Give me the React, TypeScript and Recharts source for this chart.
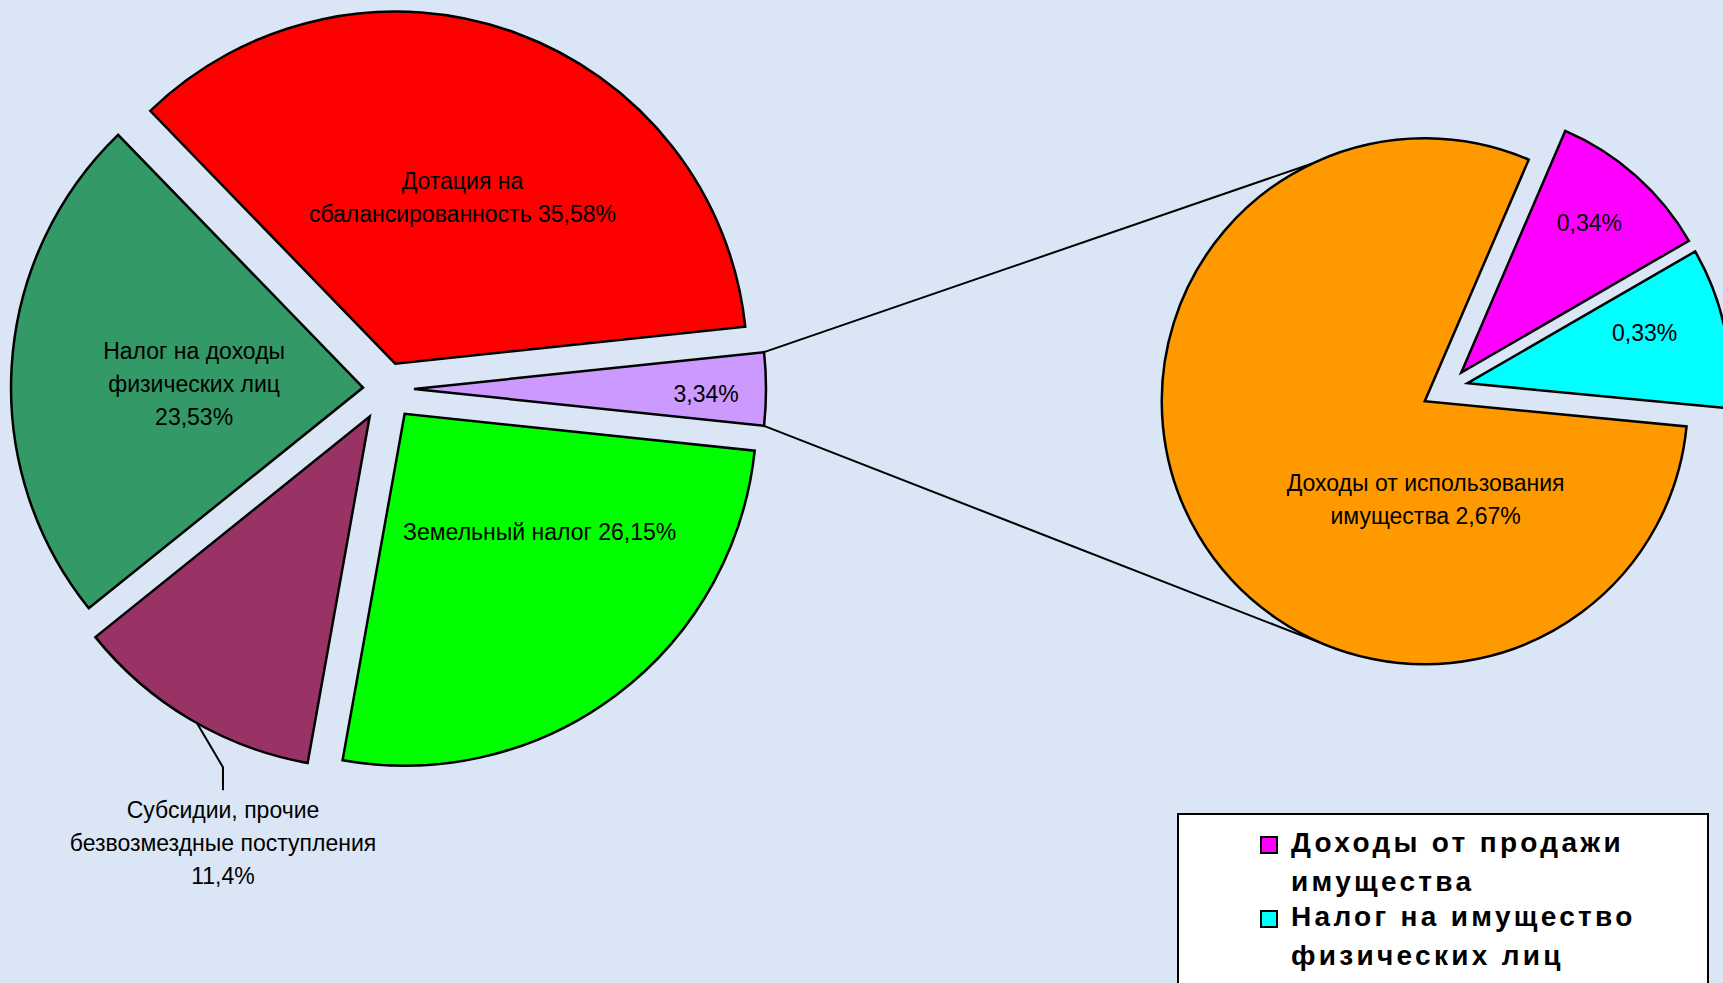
import React from "react";
import { PieChart, Pie, Cell, Sector, Legend } from "recharts";

// main pie
const mainNames = [
  "Прочие доходы",
  "Дотация на сбалансированность",
  "Налог на доходы физических лиц",
  "Субсидии, прочие безвозмездные поступления",
  "Земельный налог",
];
const mainValues = [3.34, 35.58, 23.53, 11.4, 26.15];
const mainColors = ["#CC99FF", "#FF0000", "#339966", "#993366", "#00FF00"];
const mainLabelText = [
  ["{v}"],
  ["Дотация на", "сбалансированность {v}"],
  ["Налог на доходы", "физических лиц", "{v}"],
  ["Субсидии, прочие", "безвозмездные поступления", "{v}"],
  ["Земельный налог {v}"],
];

// second pie: what "Прочие доходы" is made of
const subNames = [
  "Налог на имущество физических лиц",
  "Доходы от продажи имущества",
  "Доходы от использования имущества",
];
const subValues = [0.33, 0.34, 2.67];
const subColors = ["#00FFFF", "#FF00FF", "#FF9900"];
const subLabelText = [["{v}"], ["{v}"], ["Доходы от использования", "имущества {v}"]];

const legendNames = ["Доходы от продажи имущества", "Налог на имущество физических лиц"];
const legendLines = [
  ["Доходы от продажи", "имущества"],
  ["Налог на имущество", "физических лиц"],
];

const mainData = mainNames.map((name, i) => ({ name, value: mainValues[i] }));
const subData = subNames.map((name, i) => ({ name, value: subValues[i] }));

// layout
const W = 1723;
const H = 983;
const FONT = "'Liberation Sans', Arial, sans-serif";
const LINE_H = 33;
const MAIN = { cx: 386, cy: 389, r: 352 };
const SUB = { cx: 1448, cy: 387.5, r: 263, start: -5.5 };
const sum = (a: number[]) => a.reduce((s, v) => s + v, 0);
const mainStart = -(mainValues[0] / sum(mainValues)) * 180;

const mainExplode = [28, 27, 23, 32, 31];
const subExplode = [20, 20, 27];
// label position: fraction of radius + angle, from the slice's own vertex
const mainLabelPos = [
  { f: 0.83, a: -1 },
  { f: 0.51, a: 68 },
  { f: 0.48, a: 178.7 },
  { f: 1.08, a: 247.3, outside: true },
  { f: 0.51, a: 318.8 },
];
const subLabelPos = [
  { f: 0.7, a: 15.9 },
  { f: 0.75, a: 49.5 },
  { f: 0.375, a: 270.5 },
];
const connectorAngles = [115.3, 248.9];

const RAD = Math.PI / 180;
const polar = (x: number, y: number, r: number, a: number) => ({
  x: x + r * Math.cos(a * RAD),
  y: y - r * Math.sin(a * RAD),
});
const pct = (v: number) => String(v).replace(".", ",") + "%";

const makeShape = (names: string[], explode: number[]) => (props: any) => {
  const i = names.indexOf(props.name ?? props.payload?.name);
  const mid = (props.startAngle + props.endAngle) / 2;
  const p = polar(props.cx, props.cy, explode[i] ?? 0, mid);
  return <Sector {...props} cx={p.x} cy={p.y} stroke="#000" strokeWidth={2.5} />;
};

const TextBlock = ({ x, y, lines, size = 23 }: { x: number; y: number; lines: string[]; size?: number }) => {
  const top = y - ((lines.length - 1) * LINE_H) / 2;
  return (
    <text x={x} y={top} textAnchor="middle" dominantBaseline="central" fontFamily={FONT} fontSize={size} fill="#000">
      {lines.map((l, k) => (
        <tspan key={k} x={x} y={top + k * LINE_H} dominantBaseline="central">
          {l}
        </tspan>
      ))}
    </text>
  );
};

const renderMainLabel = (props: any) => {
  const i = props.index;
  const cx = props.cx ?? MAIN.cx;
  const cy = props.cy ?? MAIN.cy;
  const r = props.outerRadius ?? MAIN.r;
  const mid = (props.startAngle + props.endAngle) / 2;
  const v = polar(cx, cy, mainExplode[i], mid);
  const lines = mainLabelText[i].map((s) => s.replace("{v}", pct(mainValues[i])));
  const pos = mainLabelPos[i];

  if (pos.outside) {
    const a = polar(v.x, v.y, r, mid + 1.3);
    const e = polar(v.x, v.y, r * pos.f, pos.a);
    const drop = e.y + 23;
    return (
      <g>
        <polyline points={`${a.x},${a.y} ${e.x},${e.y} ${e.x},${drop}`} fill="none" stroke="#000" strokeWidth={2} />
        <TextBlock x={e.x} y={drop + 20 + ((lines.length - 1) * LINE_H) / 2} lines={lines} />
      </g>
    );
  }

  const p = polar(v.x, v.y, r * pos.f, pos.a);
  let connectors = null;
  if (i === 0) {
    // lines from the "other" slice to the second pie
    const total = sum(subValues);
    const last = subValues.length - 1;
    const oMid = SUB.start + (360 * (sum(subValues.slice(0, last)) + subValues[last] / 2)) / total;
    const oc = polar(SUB.cx, SUB.cy, subExplode[last], oMid);
    const up = polar(v.x, v.y, r, props.endAngle);
    const dn = polar(v.x, v.y, r, props.startAngle);
    const t1 = polar(oc.x, oc.y, SUB.r, connectorAngles[0]);
    const t2 = polar(oc.x, oc.y, SUB.r, connectorAngles[1]);
    connectors = (
      <g stroke="#000" strokeWidth={2}>
        <line x1={up.x} y1={up.y} x2={t1.x} y2={t1.y} />
        <line x1={dn.x} y1={dn.y} x2={t2.x} y2={t2.y} />
      </g>
    );
  }
  return (
    <g>
      {connectors}
      <TextBlock x={p.x} y={p.y} lines={lines} />
    </g>
  );
};

const renderSubLabel = (props: any) => {
  const i = props.index;
  const cx = props.cx ?? SUB.cx;
  const cy = props.cy ?? SUB.cy;
  const r = props.outerRadius ?? SUB.r;
  const mid = (props.startAngle + props.endAngle) / 2;
  const v = polar(cx, cy, subExplode[i], mid);
  const pos = subLabelPos[i];
  const p = polar(v.x, v.y, r * pos.f, pos.a);
  const lines = subLabelText[i].map((s) => s.replace("{v}", pct(subValues[i])));
  return <TextBlock x={p.x} y={p.y} lines={lines} />;
};

const renderLegend = (props: any) => {
  const payload: any[] = props.payload ?? [];
  return (
    <div
      style={{
        boxSizing: "border-box",
        width: 532,
        height: 190,
        background: "#fff",
        border: "2.5px solid #000",
        paddingTop: 8,
        paddingLeft: 80.5,
        fontFamily: FONT,
        fontWeight: 700,
        fontSize: 28,
        letterSpacing: 3.3,
        color: "#000",
      }}
    >
      {legendNames.map((name, k) => {
        const entry = payload.find((p) => p.value === name);
        const color = entry?.color ?? subColors[subNames.indexOf(name)];
        return (
          <div key={name} style={{ display: "flex", alignItems: "flex-start", marginTop: k ? -4 : 0 }}>
            <span
              style={{
                width: 18,
                height: 18,
                boxSizing: "border-box",
                border: "2px solid #000",
                background: color,
                marginTop: 13,
                marginRight: 13.5,
                flex: "none",
              }}
            />
            <div style={{ lineHeight: "39px", whiteSpace: "nowrap" }}>
              {legendLines[k].map((l) => (
                <div key={l}>{l}</div>
              ))}
            </div>
          </div>
        );
      })}
    </div>
  );
};

export default function App() {
  return (
    <div
      style={{
        position: "absolute",
        left: 0,
        top: 0,
        width: W,
        height: H,
        overflow: "hidden",
        background: "#dae6f5",
      }}
    >
      <PieChart width={W} height={H} margin={{ top: 0, right: 0, bottom: 0, left: 0 }}>
        <Pie
          data={mainData}
          dataKey="value"
          nameKey="name"
          cx={MAIN.cx}
          cy={MAIN.cy}
          outerRadius={MAIN.r}
          startAngle={mainStart}
          endAngle={mainStart + 360}
          shape={makeShape(mainNames, mainExplode)}
          label={renderMainLabel}
          labelLine={false}
          isAnimationActive={false}
        >
          {mainData.map((d, i) => (
            <Cell key={d.name} fill={mainColors[i]} stroke="#000" strokeWidth={2.5} />
          ))}
        </Pie>
        <Pie
          data={subData}
          dataKey="value"
          nameKey="name"
          cx={SUB.cx}
          cy={SUB.cy}
          outerRadius={SUB.r}
          startAngle={SUB.start}
          endAngle={SUB.start + 360}
          shape={makeShape(subNames, subExplode)}
          label={renderSubLabel}
          labelLine={false}
          isAnimationActive={false}
        >
          {subData.map((d, i) => (
            <Cell key={d.name} fill={subColors[i]} stroke="#000" strokeWidth={2.5} />
          ))}
        </Pie>
        <Legend
          verticalAlign="bottom"
          wrapperStyle={{ position: "absolute", left: 1177, top: 813, width: 532, height: 190, margin: 0 }}
          content={renderLegend}
        />
      </PieChart>
    </div>
  );
}
